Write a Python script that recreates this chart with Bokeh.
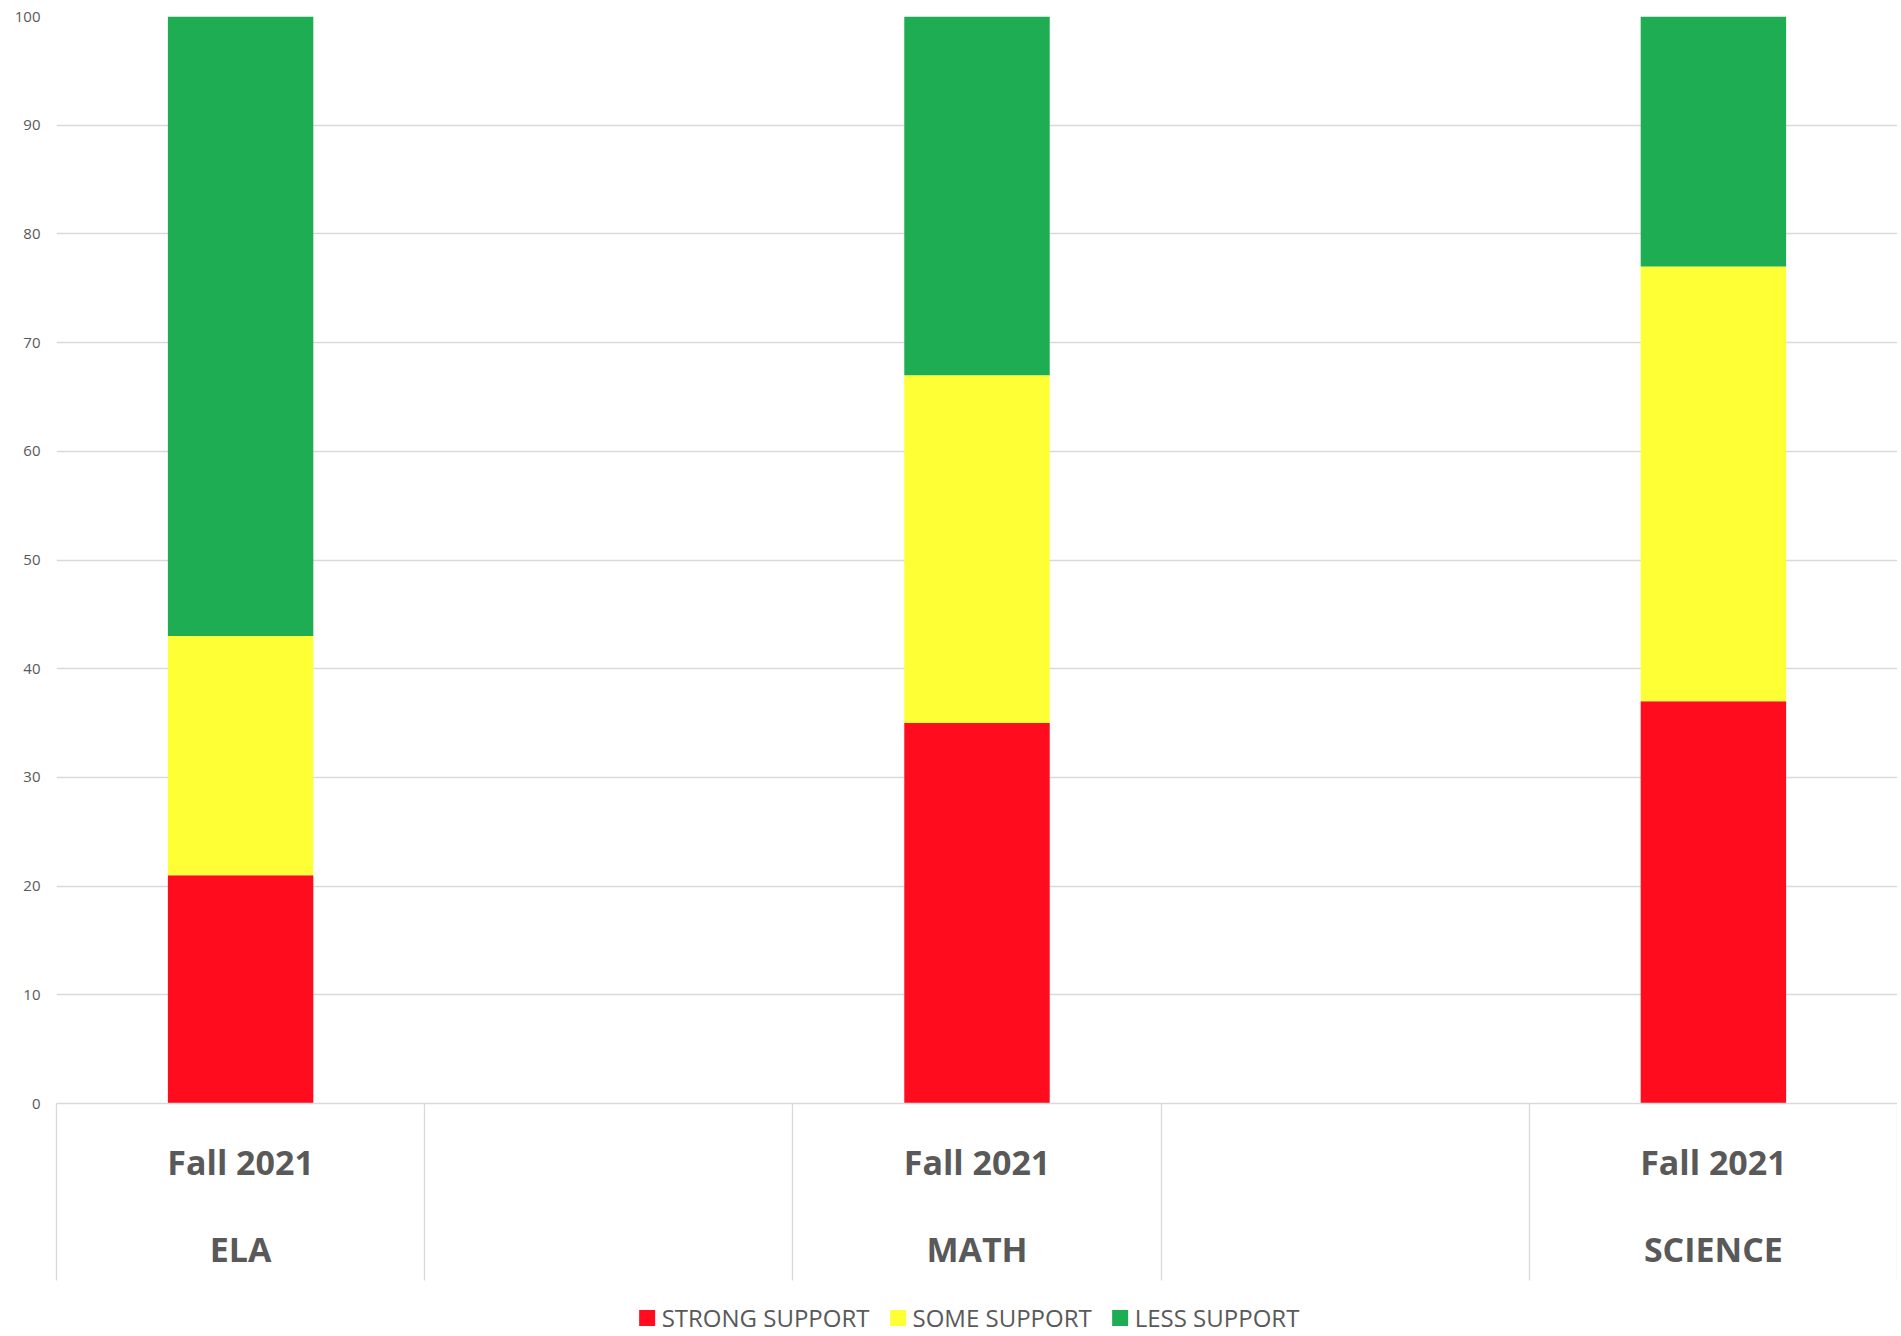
from bokeh.plotting import figure
from bokeh.models import (Range1d, LinearAxis, FixedTicker, Legend, LegendItem,
                          Grid, ColumnDataSource)
from bokeh.layouts import column
from bokeh.embed import file_html
from bokeh.resources import INLINE

# ---- data ----
terms = ["Fall 2021", "Fall 2021", "Fall 2021"]
subjects = ["ELA", "MATH", "SCIENCE"]
strong_support = [21, 35, 37]
some_support = [22, 32, 40]
less_support = [57, 33, 23]
series_names = ["STRONG SUPPORT", "SOME SUPPORT", "LESS SUPPORT"]
y_ticks = [0, 10, 20, 30, 40, 50, 60, 70, 80, 90, 100]

# ---- style ----
colors = ["#FF0D1E", "#FFFF35", "#1EAD52"]
grid_color = "#D9D9D9"
text_color = "#595959"
font = "Open Sans"

n_slots = 2 * len(subjects) - 1          # empty category slot between subjects
xs = [2 * i + 0.5 for i in range(len(subjects))]
stack_cols = ["strong", "some", "less"]

src = ColumnDataSource(dict(x=xs, strong=strong_support, some=some_support, less=less_support))

p = figure(width=1897, height=1298, output_backend="svg", toolbar_location=None,
           x_range=Range1d(0, n_slots), y_range=Range1d(0, 100),
           x_axis_type=None, y_axis_type=None,
           min_border_left=56, min_border_right=0, min_border_top=16, min_border_bottom=195)
p.outline_line_color = None
p.background_fill_color = "white"
p.border_fill_color = "white"

# y axis + grid
yticker = FixedTicker(ticks=y_ticks)
yax = LinearAxis(ticker=yticker, axis_line_color=None, major_tick_line_color=None,
                 major_tick_out=0, major_tick_in=0, minor_tick_line_color=None,
                 major_label_standoff=16, major_label_text_font=font,
                 major_label_text_font_size="15px", major_label_text_color=text_color)
p.add_layout(yax, "left")
p.add_layout(Grid(dimension=1, ticker=yticker, grid_line_color=grid_color, grid_line_width=1.3))

# stacked bars
renderers = p.vbar_stack(stack_cols, x="x", width=0.395, source=src,
                         fill_color=colors, line_color=None)

# x axis: term labels with category dividers (minor ticks)
divider_len = 177
xt1 = FixedTicker(ticks=xs, minor_ticks=list(range(n_slots + 1)))
ax1 = LinearAxis(ticker=xt1, major_label_overrides={x: t for x, t in zip(xs, terms)},
                 axis_line_color=grid_color, axis_line_width=1.3,
                 major_tick_line_color=None, major_tick_out=0, major_tick_in=0,
                 minor_tick_line_color=grid_color, minor_tick_line_width=1.3,
                 minor_tick_out=divider_len, minor_tick_in=0,
                 major_label_standoff=40 - divider_len - 5, major_label_text_font=font,
                 major_label_text_font_style="bold", major_label_text_font_size="34px",
                 major_label_text_color=text_color)
p.add_layout(ax1, "below")

xt2 = FixedTicker(ticks=xs)
ax2 = LinearAxis(ticker=xt2, major_label_overrides={x: s for x, s in zip(xs, subjects)},
                 axis_line_color=None, major_tick_line_color=None, major_tick_out=0,
                 major_tick_in=0, minor_tick_line_color=None,
                 major_label_standoff=38, major_label_text_font=font,
                 major_label_text_font_style="bold", major_label_text_font_size="34px",
                 major_label_text_color=text_color)
p.add_layout(ax2, "below")

# legend strip underneath the chart (its own bars are hidden; only swatches show)
lf = figure(width=1880, height=38, output_backend="svg", toolbar_location=None,
            x_range=Range1d(0, n_slots), y_range=Range1d(0, 100),
            x_axis_type=None, y_axis_type=None,
            min_border_left=9, min_border_right=0, min_border_top=0, min_border_bottom=0)
lf.outline_line_color = None
lf.background_fill_color = "white"
lf.border_fill_color = "white"
swatches = lf.vbar_stack(stack_cols, x="x", width=0.395, source=src,
                         fill_color=colors, line_color=None)
for r in swatches:
    r.visible = False
legend = Legend(items=[LegendItem(label=n, renderers=[r]) for n, r in zip(series_names, swatches)],
                orientation="horizontal", location="center", click_policy="none",
                border_line_color=None, background_fill_alpha=0,
                label_text_font=font, label_text_font_size="24px", label_text_color=text_color,
                glyph_width=20, glyph_height=20, label_standoff=5, spacing=18,
                padding=0, margin=0)
lf.add_layout(legend, "center")

layout = column(p, lf, spacing=0)
open("out.html", "w").write(file_html(layout, INLINE))
